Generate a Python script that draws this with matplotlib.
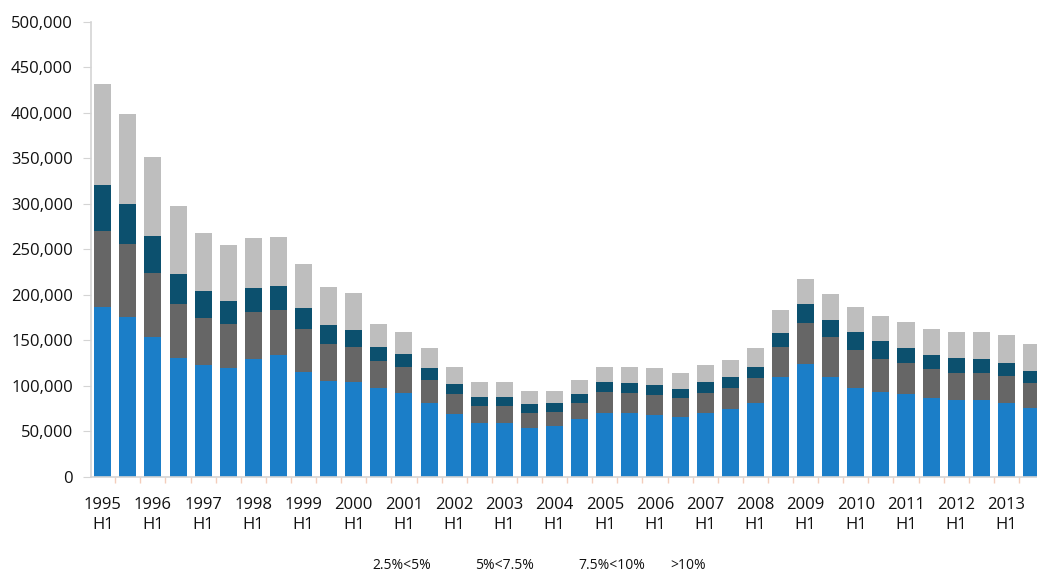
"""
Stacked half-year bars by band, 1995 H1 - 2013 H2
"""

import matplotlib
matplotlib.use('Agg')
import matplotlib.pyplot as plt
from matplotlib.ticker import FuncFormatter, FixedLocator

plt.rcParams['font.family'] = ['Open Sans', 'DejaVu Sans']

# Data
years = list(range(1995, 2014))
halves = ['H1', 'H2']
series_names = ['2.5%<5%', '5%<7.5%', '7.5%<10%', '>10%']

band_2_5 = [187000, 175400, 154100, 130300, 123000, 119400, 129200, 134000,
            115600, 105800, 104700, 97400, 91900, 80900, 69200, 59600,
            59600, 53500, 56000, 63400, 70600, 70600, 68100, 65600,
            70600, 74300, 81600, 109500, 124100, 110200, 98100, 93700,
            91200, 86400, 84600, 84600, 81600, 75400]
band_5 = [83200, 80500, 69600, 59700, 51300, 48300, 51700, 49400,
          46900, 40300, 38400, 30300, 29200, 25600, 22000, 18400,
          18400, 17100, 15700, 18200, 23100, 21300, 22000, 20800,
          21300, 23800, 26800, 33600, 44700, 43200, 41400, 35500,
          34300, 31900, 29900, 29300, 29300, 27500]
band_7_5 = [50500, 43900, 41000, 33000, 30000, 25900, 26300, 26400,
            23400, 20800, 18300, 15400, 14000, 12900, 10900, 10200,
            10200, 9200, 9200, 9600, 11000, 11700, 10900, 9900,
            12100, 12100, 12100, 15400, 20800, 19000, 19400, 20200,
            15800, 15700, 15800, 15700, 14600, 13800]
band_10 = [110600, 98500, 87100, 74600, 64000, 61200, 54900, 53400,
           47700, 42100, 41000, 24900, 23800, 21900, 19000, 16500,
           15800, 14600, 13500, 15300, 16400, 17500, 18400, 18200,
           19000, 18300, 20800, 24900, 27800, 28600, 28100, 27700,
           28600, 28500, 29300, 29300, 30400, 29400]

colors = ['#1B7EC8', '#666666', '#0C506E', '#BEBEBE']
axis_grey = '#D4D4D4'

periods = [(y, h) for y in years for h in halves]
x = list(range(len(periods)))
tick_labels = [f'{y}\n{h}' if h == 'H1' else '' for y, h in periods]

fig = plt.figure(figsize=(10.37, 5.72), dpi=100)
ax = fig.add_axes([0.0878, 0.1661, 0.9122, 0.796])

bottom = [0] * len(x)
for name, vals, col in zip(series_names,
                           [band_2_5, band_5, band_7_5, band_10], colors):
    ax.bar(x, vals, width=0.68, bottom=bottom, color=col, label=name,
           linewidth=0)
    bottom = [b + v for b, v in zip(bottom, vals)]

ax.set_xlim(-0.466, 37.22)
ax.set_ylim(0, 500000)
ax.set_yticks(range(0, 500001, 50000))
ax.yaxis.set_major_formatter(FuncFormatter(lambda v, p: f'{int(v):,}'))

ax.set_xticks(x)
ax.set_xticklabels(tick_labels, fontsize=12, linespacing=1.35, color='#111111')
ax.xaxis.set_minor_locator(FixedLocator([i + 0.5 for i in x]))
ax.tick_params(axis='x', which='major', length=0, pad=14.5)
ax.tick_params(axis='x', which='minor', length=4, color='#F4CDBB', width=1)
ax.tick_params(axis='y', length=6, color=axis_grey, pad=7, labelsize=12,
               labelcolor='#111111')

for side in ['top', 'right']:
    ax.spines[side].set_visible(False)
for side in ['left', 'bottom']:
    ax.spines[side].set_color(axis_grey)
    ax.spines[side].set_linewidth(1.2)

# legend text row (markers are not shown in the original)
legend_x = [401.5, 504, 611.5, 688.5]
for name, px in zip(series_names, legend_x):
    fig.text(px / 1037, 1 - 565.5 / 572, name, ha='center', va='center',
             fontsize=10, color='#111111')

fig.savefig('out.png', dpi=100)
